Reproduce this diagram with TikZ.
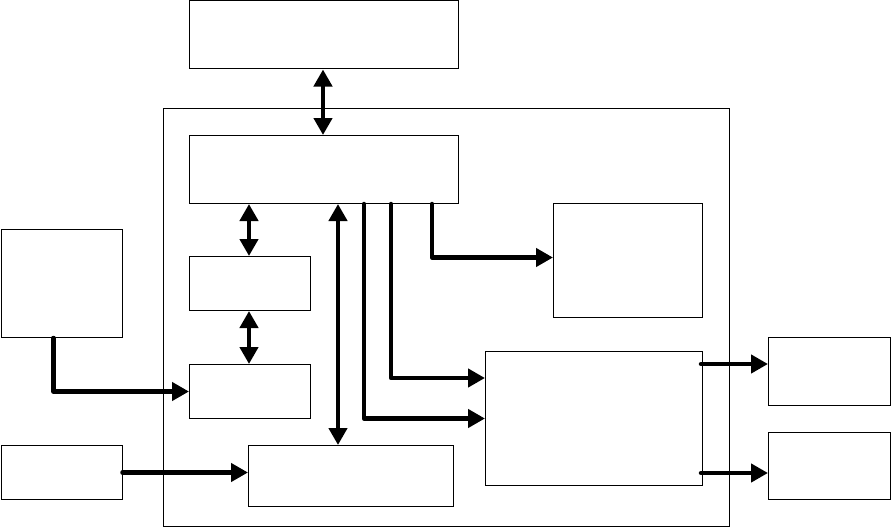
\documentclass[tikz,border=0pt]{standalone}
\usetikzlibrary{arrows.meta}
\begin{document}
\begin{tikzpicture}[x=1pt,y=-1pt,
  box/.style={draw,line width=1pt,rectangle,inner sep=0pt,anchor=north west},
  arr/.style={line width=4.5pt,line cap=round,line join=round,-{Triangle[length=17pt,width=18pt]}},
  darr/.style={line width=4.5pt,{Triangle[length=17pt,width=18pt]}-{Triangle[length=17pt,width=18pt]}},
  plain/.style={line width=4.5pt,line cap=round}]
\useasboundingbox (0,0) rectangle (891,527);
\node[box,minimum width=566pt,minimum height=418pt] (cont) at (162.5,108) {};
\node[box,minimum width=269pt,minimum height=68pt] (top) at (189,0.5) {};
\node[box,minimum width=269pt,minimum height=68pt] (inner) at (189,135) {};
\node[box,minimum width=121pt,minimum height=54pt] (sb1) at (189,256) {};
\node[box,minimum width=121pt,minimum height=54pt] (sb2) at (189,364) {};
\node[box,minimum width=205pt,minimum height=61pt] (bb) at (248,445) {};
\node[box,minimum width=149pt,minimum height=114pt] (rb) at (553,203) {};
\node[box,minimum width=217pt,minimum height=134pt] (lr) at (485,351) {};
\node[box,minimum width=121pt,minimum height=108pt] (lb1) at (0.5,229) {};
\node[box,minimum width=121pt,minimum height=54pt] (lb2) at (0.5,445) {};
\node[box,minimum width=122pt,minimum height=68pt] (ro1) at (768,337) {};
\node[box,minimum width=122pt,minimum height=67pt] (ro2) at (768,432) {};
% connectors
\draw[darr] ([xshift=134pt]top.south west) -- ([xshift=134pt]inner.north west);
\draw[darr] ([xshift=60pt]sb1.north west |- inner.south) -- ([xshift=60pt]sb1.north west);
\draw[darr] ([xshift=60pt]sb1.south west) -- ([xshift=60pt]sb2.north west);
\draw[darr] ([xshift=149pt]inner.south west) -- ([xshift=90pt]bb.north west);
\draw[arr] ([xshift=175pt]inner.south west) |- (lr.west);
\draw[arr] ([xshift=202pt]inner.south west) |- ([yshift=-27pt]lr.north west);
\draw[arr] ([xshift=243pt]inner.south west) |- ([yshift=3pt]rb.west);
\draw[arr] ([xshift=53pt]lb1.south west) |- (sb2.west);
\draw[arr] (lb2.east) -- (lb2.east -| bb.west);
\draw[arr] ([xshift=-2pt,yshift=-13pt]lr.north east) -- ([yshift=-13pt]lr.north east -| ro1.west);
\draw[arr] ([xshift=-2pt,yshift=13pt]lr.south east) -- ([yshift=13pt]lr.south east -| ro2.west);
\end{tikzpicture}
\end{document}
